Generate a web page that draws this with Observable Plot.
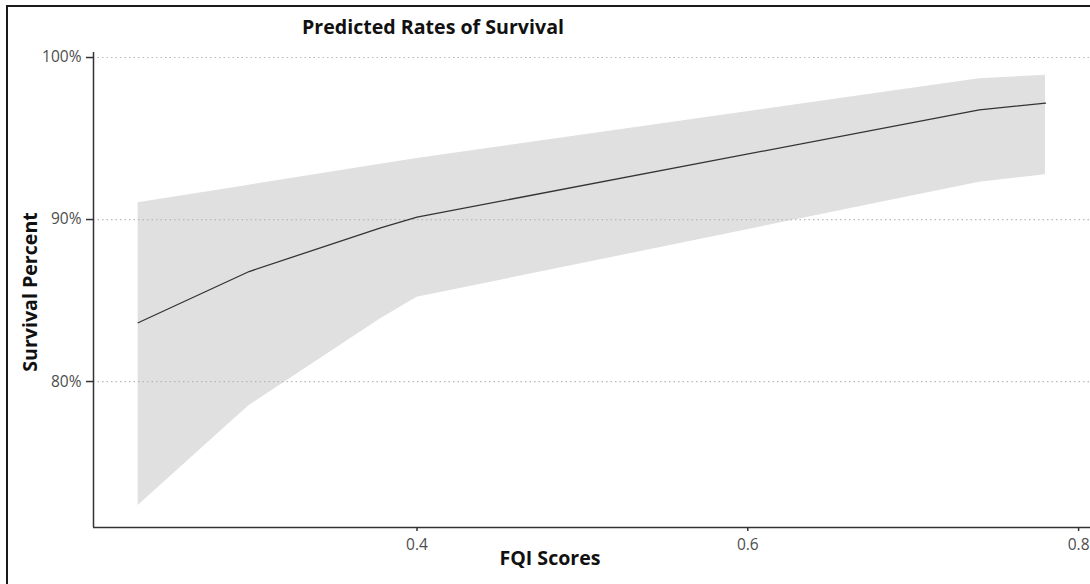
<!DOCTYPE html>
<html><head><meta charset="utf-8">
<script src="https://cdn.jsdelivr.net/npm/d3@7"></script>
<script src="https://cdn.jsdelivr.net/npm/@observablehq/plot@0.6"></script>
<style>
body{margin:0;background:#fff;}
#wrap{position:relative;width:1090px;height:584px;overflow:hidden;font-family:"Open Sans",sans-serif;background:#fff;}
#frame{position:absolute;left:6px;top:5px;width:1100px;height:600px;border-top:2px solid #1a1a1a;border-left:2px solid #1a1a1a;pointer-events:none;}
.lbl{position:absolute;font-weight:bold;font-size:19.6px;color:#111;white-space:nowrap;line-height:1;}
#title{left:302px;top:17px;}
#xlab{left:550px;top:548px;transform:translateX(-50%);}
#ylab{left:30px;top:292px;transform:translate(-50%,-50%) rotate(-90deg);}
#chart svg text{font-size:15.5px !important;}
</style>
</head><body>
<div id="wrap">
  <div id="chart"></div>
  <div id="frame"></div>
  <div class="lbl" id="title">Predicted Rates of Survival</div>
  <div class="lbl" id="xlab">FQI Scores</div>
  <div class="lbl" id="ylab">Survival Percent</div>
</div>
<script>
const fqi   = [0.2314, 0.2985, 0.378, 0.40, 0.74, 0.78];
const fit   = [0.8363, 0.8679, 0.8949, 0.9015, 0.9677, 0.9718];
const lower = [0.7235, 0.7852, 0.8387, 0.8520, 0.9230, 0.9276];
const upper = [0.9103, 0.9212, 0.9341, 0.9377, 0.9869, 0.9890];
const xTicks = [0.4, 0.6, 0.8];
const yTicks = [0.8, 0.9, 1.0];
const xDomain = [0.2044, 0.8072];
const yDomain = [0.7099, 1.0031];

const rows = fqi.map((x, i) => ({fqi: x, fit: fit[i], lower: lower[i], upper: upper[i]}));

const chart = Plot.plot({
  width: 1090,
  height: 584,
  marginLeft: 93,
  marginRight: 0,
  marginTop: 52,
  marginBottom: 57,
  style: {fontFamily: "'Open Sans', sans-serif", fontSize: "15.5px", background: "transparent"},
  x: {domain: xDomain},
  y: {domain: yDomain},
  marks: [
    Plot.areaY(rows, {x: "fqi", y1: "lower", y2: "upper", fill: "#e0e0e0"}),
    Plot.gridY(yTicks, {stroke: "#b8b8b8", strokeOpacity: 1, strokeWidth: 1.2, strokeDasharray: "1.5,3"}),
    Plot.lineY(rows, {x: "fqi", y: "fit", stroke: "#333", strokeWidth: 1.3}),
    Plot.axisY(yTicks, {tickSize: 7, tickPadding: 5, tickFormat: d3.format(".0%"), label: null, stroke: "#333", fill: "#4d4d4d", strokeWidth: 1.5}),
    Plot.axisX(xTicks, {tickSize: 4, tickPadding: 7, tickFormat: d3.format(".1f"), label: null, stroke: "#333", fill: "#4d4d4d", strokeWidth: 1.5}),
    Plot.ruleX([xDomain[0]], {stroke: "#333", strokeWidth: 1.5}),
    Plot.ruleY([yDomain[0]], {stroke: "#333", strokeWidth: 1.5})
  ]
});
document.getElementById("chart").appendChild(chart);
</script>
</body></html>
